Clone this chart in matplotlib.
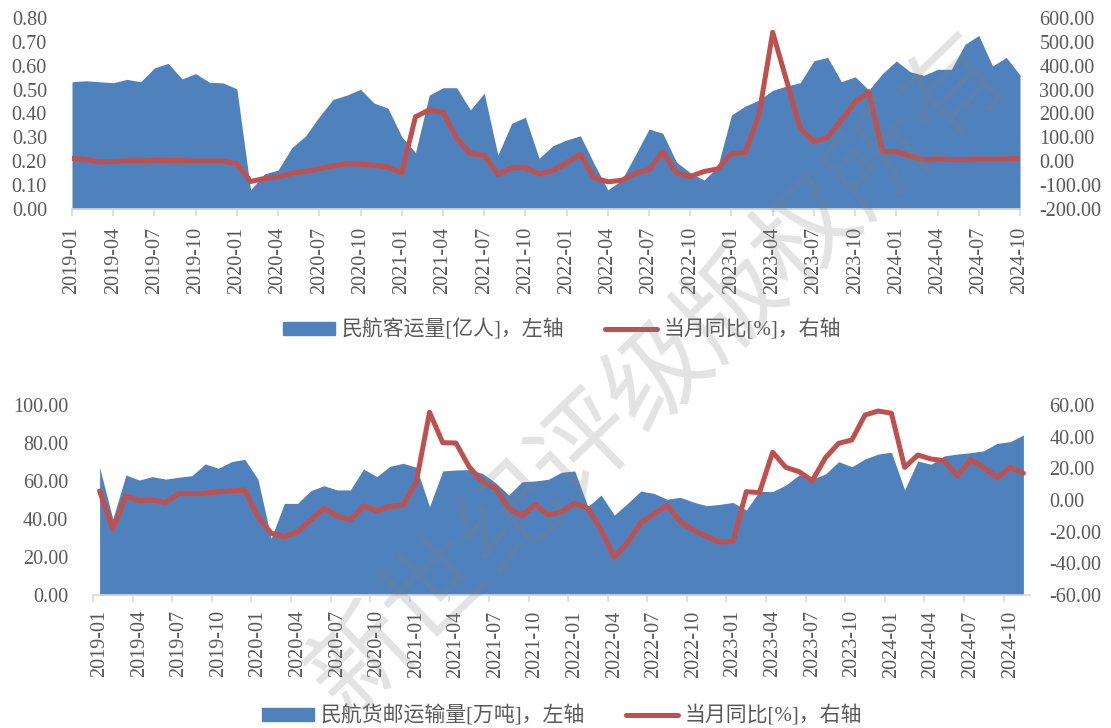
import pandas as pd
import matplotlib.pyplot as plt
from matplotlib.patches import Patch
from matplotlib.lines import Line2D

# Monthly labels
months_pax = pd.date_range("2019-01", periods=70, freq="MS").strftime("%Y-%m").tolist()
months_cargo = pd.date_range("2019-01", periods=71, freq="MS").strftime("%Y-%m").tolist()

# Passenger traffic (100 million persons) and YoY (%)
pax = [0.533, 0.537, 0.533, 0.529, 0.543, 0.533, 0.591, 0.610, 0.545, 0.567,
       0.531, 0.528, 0.503, 0.080, 0.147, 0.163, 0.257, 0.306, 0.387, 0.459,
       0.477, 0.501, 0.443, 0.422, 0.303, 0.236, 0.477, 0.508, 0.508, 0.415,
       0.485, 0.226, 0.359, 0.384, 0.212, 0.265, 0.289, 0.307, 0.190, 0.080,
       0.121, 0.226, 0.335, 0.317, 0.196, 0.152, 0.121, 0.177, 0.394, 0.431,
       0.456, 0.497, 0.515, 0.529, 0.621, 0.635, 0.533, 0.554, 0.498, 0.568,
       0.620, 0.575, 0.560, 0.585, 0.585, 0.690, 0.727, 0.599, 0.635, 0.561]
pax_yoy = [12, 8, -3, -1, 2, 2, 4, 3, 3, 1,
           1, 1, -10, -85, -72, -66, -50, -42, -31, -20,
           -10, -12, -17, -24, -49, 186, 215, 205, 96, 32,
           25, -55, -27, -27, -53, -39, -6, 29, -69, -86,
           -80, -51, -35, 40, -49, -64, -43, -32, 32, 36,
           194, 540, 340, 138, 82, 100, 173, 249, 291, 40,
           40, 22, 7, 10, 7, 7, 10, 9, 10, 12]

# Cargo and mail traffic (10k tonnes) and YoY (%)
cargo = [67.2, 40.0, 63.2, 60.5, 62.3, 61.0, 62.0, 62.8, 69.0, 66.7,
         70.2, 71.4, 60.9, 29.8, 48.2, 48.2, 54.9, 57.5, 55.3, 55.3,
         66.3, 62.3, 67.7, 69.3, 67.2, 46.5, 65.3, 65.8, 66.0, 64.0,
         59.1, 52.6, 59.6, 60.0, 60.9, 64.6, 65.3, 46.5, 52.6, 42.1,
         48.2, 54.7, 53.5, 50.4, 51.4, 48.9, 47.0, 47.7, 48.7, 44.7,
         54.6, 54.4, 57.9, 63.2, 60.9, 63.7, 70.2, 67.5, 71.6, 74.2,
         75.1, 55.3, 70.5, 68.8, 73.2, 74.2, 74.9, 75.9, 79.8, 80.7,
         84.2]
cargo_yoy = [5.7, -18.3, 2.5, -0.4, 0.0, -1.5, 4.2, 4.0, 4.2, 5.2,
             5.7, 6.3, -10.6, -21.0, -23.2, -20.0, -12.6, -5.2, -10.1, -12.6,
             -3.8, -6.8, -4.0, -3.2, 11.6, 55.4, 36.2, 36.0, 21.0, 11.6,
             7.4, -5.2, -10.1, -2.7, -9.5, -7.4, -2.1, -5.2, -19.0, -36.2,
             -27.0, -14.3, -9.0, -3.2, -13.7, -19.0, -23.0, -26.5, -26.0, 5.2,
             4.7, 30.2, 20.6, 17.9, 12.2, 26.7, 35.8, 37.9, 53.7, 56.2,
             54.8, 20.6, 28.4, 25.9, 24.8, 15.2, 25.6, 20.6, 14.1, 20.6,
             16.9]

BLUE = "#4F81BD"
RED = "#C0504D"
GREY = "#595959"
AXIS = "#D9D9D9"
FS = 14.5
fonts = ["Liberation Serif", "Noto Sans CJK SC"]

plt.rcParams["font.family"] = fonts

fig = plt.figure(figsize=(11.11, 7.28), dpi=100)


def style_axes(ax, ax2, fmt_left):
    for s in ["top", "left", "right"]:
        ax.spines[s].set_visible(False)
    ax.spines["bottom"].set_color(AXIS)
    ax.spines["bottom"].set_linewidth(1.2)
    for s in ax2.spines.values():
        s.set_visible(False)
    ax.yaxis.set_major_formatter(plt.FormatStrFormatter(fmt_left))
    ax2.yaxis.set_major_formatter(plt.FormatStrFormatter("%.2f"))
    ax.tick_params(axis="y", length=0, pad=18, labelsize=FS, labelcolor=GREY)
    ax2.tick_params(axis="y", length=0, pad=14, labelsize=FS, labelcolor=GREY)


# ---- passenger traffic ----
ax1 = fig.add_axes([72 / 1111, 1 - 209 / 728, 948 / 1111, 191 / 728])
x1 = list(range(len(pax)))
ax1.fill_between(x1, 0, pax, color=BLUE, linewidth=0)
ax1.set_xlim(0, len(pax) - 1)
ax1.set_ylim(0, 0.8)
ax1.set_yticks([i / 10 for i in range(9)])
ax1.set_xticks(x1[::3])
ax1.set_xticklabels(months_pax[::3], rotation=90)
ax1.tick_params(axis="x", length=5, width=1.2, color=AXIS, pad=8,
                labelsize=FS, labelcolor=GREY)
ax1b = ax1.twinx()
ax1b.plot(x1, pax_yoy, color=RED, lw=3.6, solid_joinstyle="round",
          solid_capstyle="round")
ax1b.set_ylim(-200, 600)
ax1b.set_yticks(range(-200, 601, 100))
style_axes(ax1, ax1b, "%.2f")

ax1.legend(handles=[Patch(color=BLUE, label="民航客运量[亿人]，左轴"),
                    Line2D([], [], color=RED, lw=3.6, solid_capstyle="round",
                           label="当月同比[%]，右轴")],
           loc="center", bbox_to_anchor=(562 / 1111, 1 - 330 / 728),
           bbox_transform=fig.transFigure, ncol=2, frameon=False,
           prop={"family": fonts, "size": 15}, labelcolor=GREY,
           handlelength=2.5, handleheight=0.55, handletextpad=0.3,
           columnspacing=2.0)

# ---- cargo and mail traffic ----
ax2 = fig.add_axes([93 / 1111, 1 - 595 / 728, 937 / 1111, 190 / 728])
x2 = list(range(len(cargo)))
ax2.fill_between(x2, 0, cargo, color=BLUE, linewidth=0)
ax2.set_xlim(-0.5, len(cargo) - 0.5)
ax2.set_ylim(0, 100)
ax2.set_yticks(range(0, 101, 20))
ax2.set_xticks(x2[::3])
ax2.set_xticklabels(months_cargo[::3], rotation=90)
ax2.set_xticks([i - 0.5 for i in x2[::3]], minor=True)
ax2.tick_params(axis="x", which="major", length=0, pad=11,
                labelsize=FS, labelcolor=GREY)
ax2.tick_params(axis="x", which="minor", length=5, width=1.2, color=AXIS)
ax2b = ax2.twinx()
ax2b.plot(x2, cargo_yoy, color=RED, lw=3.6, solid_joinstyle="round",
          solid_capstyle="round")
ax2b.set_ylim(-60, 60)
ax2b.set_yticks(range(-60, 61, 20))
style_axes(ax2, ax2b, "%.2f")

ax2.legend(handles=[Patch(color=BLUE, label="民航货邮运输量[万吨]，左轴"),
                    Line2D([], [], color=RED, lw=3.6, solid_capstyle="round",
                           label="当月同比[%]，右轴")],
           loc="center", bbox_to_anchor=(562 / 1111, 1 - 716 / 728),
           bbox_transform=fig.transFigure, ncol=2, frameon=False,
           prop={"family": fonts, "size": 15}, labelcolor=GREY,
           handlelength=2.5, handleheight=0.55, handletextpad=0.3,
           columnspacing=2.0)

# watermark
fig.text(660 / 1111, 1 - 375 / 728, "新世纪评级版权所有", rotation=44,
         rotation_mode="anchor", ha="center", va="center", fontsize=74,
         family="Noto Sans CJK SC", color="#7f7f7f", alpha=0.22, zorder=10)

plt.savefig("out.png", dpi=100)
